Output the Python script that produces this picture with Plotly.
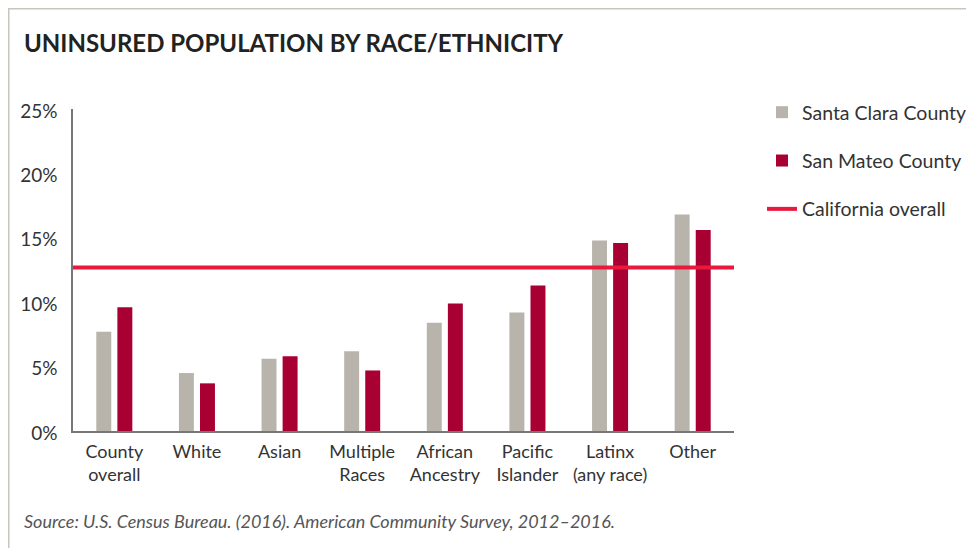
import plotly.graph_objects as go

categories = ["County<br>overall", "White", "Asian", "Multiple<br>Races", "African<br>Ancestry",
              "Pacific<br>Islander", "Latinx<br>(any race)", "Other"]
santa_clara = [7.7, 4.5, 5.6, 6.2, 8.4, 9.2, 14.8, 16.8]
san_mateo = [9.6, 3.7, 5.8, 4.7, 9.9, 11.3, 14.6, 15.6]
california_overall = 12.7
y_ticks = [0, 5, 10, 15, 20, 25]
y_ticklabels = ["0%", "5%", "10%", "15%", "20%", "25%"]

OFF = 8  # page body margin
W, H = 974 - OFF, 548 - OFF
L, T = 73 - OFF, 109 - OFF
R, B = 240, 117
pw, ph = W - L - R, H - T - B

def px_x(x):
    return (x - OFF - L) / pw

def px_y(y):
    return (H - B - (y - OFF)) / ph

FONT = "Lato"
xs = list(range(len(categories)))

fig = go.Figure()
fig.add_trace(go.Bar(x=xs, y=santa_clara, name="Santa Clara County",
                     marker=dict(color="#b8b4ac", line=dict(width=0)), legendgroup="a"))
fig.add_trace(go.Bar(x=xs, y=san_mateo, name="San Mateo County",
                     marker=dict(color="#a80032", line=dict(width=0)), legendgroup="b"))
fig.add_trace(go.Scatter(x=[-0.5, len(categories) - 0.5], y=[california_overall] * 2,
                         mode="lines", name="California overall",
                         line=dict(color="#e8193c", width=4), legendgroup="c"))

fig.update_layout(
    width=W, height=H,
    margin=dict(l=L, r=R, t=T, b=B, autoexpand=False),
    paper_bgcolor="white", plot_bgcolor="white",
    barmode="group", bargap=0.49, bargroupgap=0.29,
    font=dict(family=FONT, color="#333333", size=18),
    showlegend=True,
    legend=dict(x=px_x(762), y=px_y(93), xanchor="left", yanchor="top",
                font=dict(family=FONT, size=19.5, color="#333333"),
                tracegroupgap=20, itemwidth=30, bgcolor="rgba(0,0,0,0)"),
    xaxis=dict(range=[-0.5, len(categories) - 0.5], tickvals=xs, ticktext=categories,
               showgrid=False, zeroline=False, showline=True, linecolor="#777777", linewidth=2,
               ticks="", ticklabelstandoff=3, tickfont=dict(family=FONT, size=18, color="#333333"),
               fixedrange=True),
    yaxis=dict(range=[0, 25], tickvals=y_ticks, ticktext=y_ticklabels,
               showgrid=False, zeroline=False, showline=True, linecolor="#777777", linewidth=1.5,
               ticks="", ticklabelstandoff=10, ticklabelshift=2,
               tickfont=dict(family=FONT, size=19, color="#333333"), fixedrange=True),
    shapes=[
        dict(type="line", xref="paper", yref="paper", x0=px_x(OFF + 0.75), x1=px_x(OFF + 0.75),
             y0=px_y(OFF), y1=px_y(560), line=dict(color="#c8c5bd", width=1.5)),
        dict(type="line", xref="paper", yref="paper", x0=px_x(OFF), x1=px_x(980),
             y0=px_y(OFF + 0.75), y1=px_y(OFF + 0.75), line=dict(color="#c8c5bd", width=1.5)),
    ],
    annotations=[
        dict(text="<b>UNINSURED POPULATION BY RACE/ETHNICITY</b>", xref="paper", yref="paper",
             x=px_x(22), y=px_y(42), xanchor="left", yanchor="middle", showarrow=False,
             font=dict(family=FONT, size=24, color="#222222")),
        dict(text="<i>Source: U.S. Census Bureau. (2016). American Community Survey, 2012–2016.</i>",
             xref="paper", yref="paper", x=px_x(22), y=px_y(521), xanchor="left", yanchor="middle",
             showarrow=False, font=dict(family=FONT, size=18, color="#555555")),
    ],
)

fig.write_html("out.html")
